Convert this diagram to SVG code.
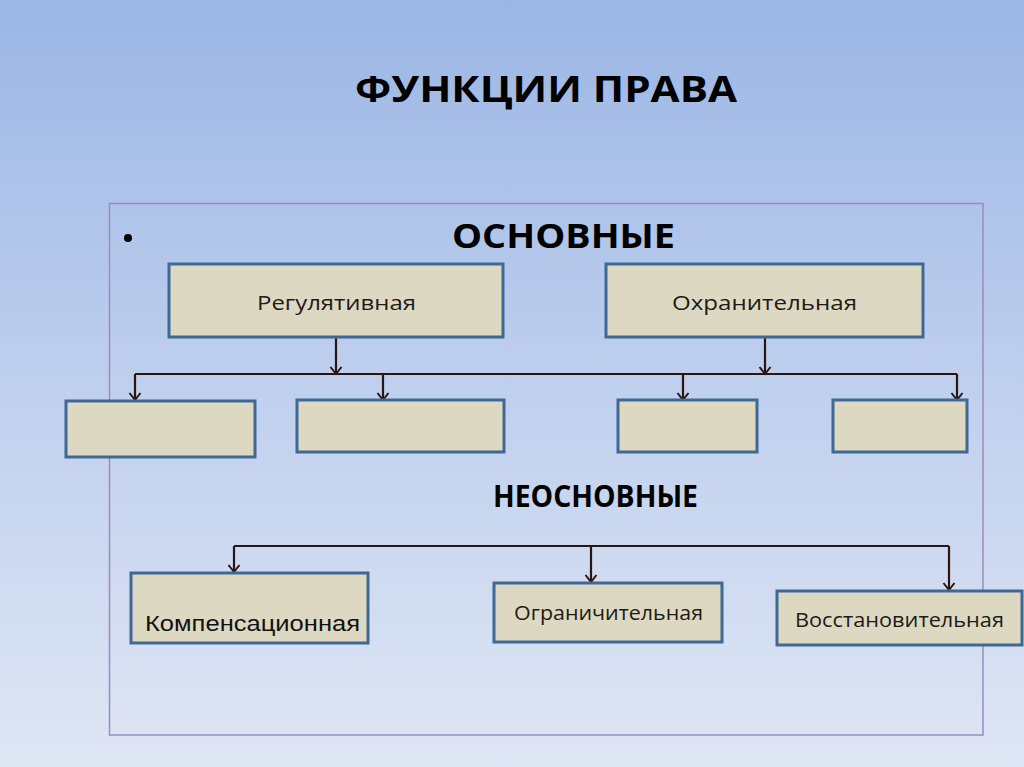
<svg xmlns="http://www.w3.org/2000/svg" width="1024" height="767" viewBox="0 0 1024 767">
<defs>
<linearGradient id="bg" x1="0" y1="0" x2="0" y2="1">
<stop offset="0" stop-color="#9bb6e4"/>
<stop offset="0.5" stop-color="#bfcfee"/>
<stop offset="1" stop-color="#dfe6f4"/>
</linearGradient>
<marker id="arr" markerWidth="14" markerHeight="14" viewBox="0 0 14 14" refX="12" refY="7" orient="auto" markerUnits="userSpaceOnUse">
<path d="M5,1.5 L12,7 L5,12.5" fill="none" stroke="#2a1510" stroke-width="2"/>
</marker>
<style>
.box{fill:#ddd8c2;stroke:#3f6895;stroke-width:3}
.lbl{font-family:"Open Sans","Liberation Sans",sans-serif;font-size:20px;fill:#1e1a16}
.hdr{font-family:"Open Sans","Liberation Sans",sans-serif;font-weight:bold;fill:#000}
.con{fill:none;stroke:#2a1510;stroke-width:2.2}
</style>
</defs>
<rect x="0" y="0" width="1024" height="767" fill="url(#bg)"/>
<text class="hdr" x="355" y="102" font-size="36" textLength="382" lengthAdjust="spacingAndGlyphs">ФУНКЦИИ ПРАВА</text>
<rect x="109.5" y="203.5" width="873.5" height="531.5" fill="none" stroke="#9a8cc0" stroke-width="1.5"/>
<circle cx="128" cy="238" r="4" fill="#000"/>
<text class="hdr" x="452" y="248" font-size="34" textLength="223" lengthAdjust="spacingAndGlyphs">ОСНОВНЫЕ</text>
<text class="hdr" x="493" y="507" font-size="30" textLength="205" lengthAdjust="spacingAndGlyphs">НЕОСНОВНЫЕ</text>
<g id="connectors">
<path class="con" d="M336,337 V374" marker-end="url(#arr)"/>
<path class="con" d="M765,337 V374" marker-end="url(#arr)"/>
<path class="con" d="M135,374 H957"/>
<path class="con" d="M135,374 V400" marker-end="url(#arr)"/>
<path class="con" d="M383,374 V400" marker-end="url(#arr)"/>
<path class="con" d="M683,374 V400" marker-end="url(#arr)"/>
<path class="con" d="M957,374 V400" marker-end="url(#arr)"/>
<path class="con" d="M234,546 H949"/>
<path class="con" d="M234,546 V572" marker-end="url(#arr)"/>
<path class="con" d="M591,546 V582" marker-end="url(#arr)"/>
<path class="con" d="M949,546 V590" marker-end="url(#arr)"/>
</g>
<g id="reg"><rect class="box" x="169" y="264" width="334" height="73"/><text class="lbl" x="257" y="310" textLength="159" lengthAdjust="spacingAndGlyphs">Регулятивная</text></g>
<g id="ohr"><rect class="box" x="606" y="264" width="317" height="73"/><text class="lbl" x="672" y="310" textLength="185" lengthAdjust="spacingAndGlyphs">Охранительная</text></g>
<g id="b1"><rect class="box" x="66" y="401" width="189" height="56"/></g>
<g id="b2"><rect class="box" x="297" y="400" width="207" height="52"/></g>
<g id="b3"><rect class="box" x="618" y="400" width="139" height="52"/></g>
<g id="b4"><rect class="box" x="833" y="400" width="134" height="52"/></g>
<g id="komp"><rect class="box" x="131" y="573" width="237" height="70"/><text x="145" y="631" font-family="Liberation Sans, Arial, sans-serif" font-size="22" fill="#111" textLength="215" lengthAdjust="spacingAndGlyphs">Компенсационная</text></g>
<g id="ogr"><rect class="box" x="494" y="583" width="228" height="59"/><text class="lbl" x="514" y="620" textLength="189" lengthAdjust="spacingAndGlyphs">Ограничительная</text></g>
<g id="vos"><rect class="box" x="777" y="591" width="245" height="54"/><text class="lbl" x="795" y="627" textLength="209" lengthAdjust="spacingAndGlyphs">Восстановительная</text></g>
</svg>
